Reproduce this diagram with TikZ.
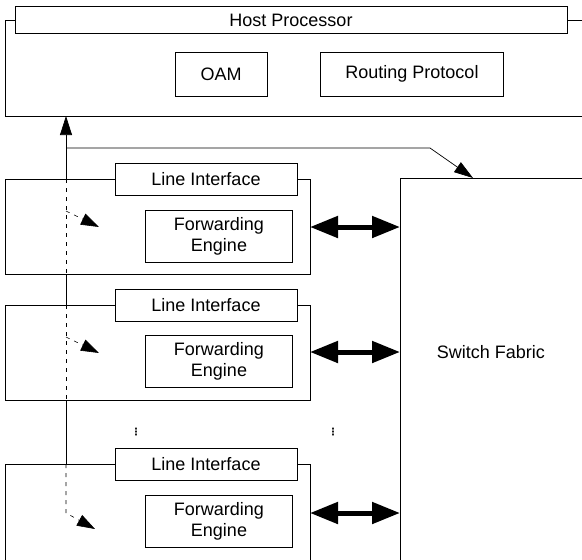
\documentclass[tikz,border=0pt]{standalone}
\usepackage{fontspec}
\setmainfont{Liberation Sans}
\newfontfamily\symfont{DejaVu Sans}
\usetikzlibrary{arrows.meta}

\tikzset{
  box/.style={draw, line width=0.7pt, align=center, inner sep=0pt,
    font=\fontsize{18}{21}\selectfont},
  frame/.style={line width=0.7pt},
  biarrow/.style={line width=5pt,
    {Triangle[length=28pt,width=21pt]}-{Triangle[length=28pt,width=21pt]}},
  toarrow/.style={line width=0.7pt, -{Triangle[length=19pt,width=12pt]}},
  dotline/.style={line width=0.6pt, dash pattern=on 4pt off 5pt},
  dotarrow/.style={dotline, -{Triangle[length=18pt,width=12pt]}},
  dots/.style={inner sep=0pt, font=\fontsize{10}{10}\symfont\bfseries},
}

\begin{document}
\begin{tikzpicture}[x=1pt,y=-1pt]
  \useasboundingbox (0,0) rectangle (582,560);
  % host processor
  \node[box, minimum width=552, minimum height=27] (host) at (291,20) {Host Processor};
  \node[box, minimum width=92, minimum height=44] (oam) at (221,74) {OAM};
  \node[box, minimum width=183, minimum height=44] (routing) at (412,74) {Routing Protocol};
  \draw[frame] (host.west) -- (5,20) -- (5,116) -- (582,116);
  \draw[frame] (host.east) -- (582,20);
  \coordinate (hostin) at (66,116);

  % switch fabric
  \coordinate (sf) at (400,178);
  \draw[frame] (400,560) -- (sf) -- (582,178);
  \node[font=\fontsize{18}{21}\selectfont] (fabric) at (491,352) {Switch Fabric};

  % line cards
  \node[box, minimum width=182, minimum height=32] (li1) at (206,179) {Line Interface};
  \node[box, minimum width=147, minimum height=52] (fe1) at (219,236) {Forwarding\\Engine};
  \draw[frame] (li1.west) -- (5,179) -- (5,274) -- (310,274) -- (310,179) -- (li1.east);

  \node[box, minimum width=182, minimum height=32] (li2) at (206,305) {Line Interface};
  \node[box, minimum width=147, minimum height=52] (fe2) at (219,361) {Forwarding\\Engine};
  \draw[frame] (li2.west) -- (5,305) -- (5,400) -- (310,400) -- (310,305) -- (li2.east);

  \node[box, minimum width=182, minimum height=32] (li3) at (206,464) {Line Interface};
  \node[box, minimum width=147, minimum height=52] (fe3) at (219,521) {Forwarding\\Engine};
  \draw[frame] (li3.west) -- (5,464) -- (5,560);
  \draw[frame] (li3.east) -- (310,464) -- (310,560);

  \node[dots] (dotsa) at (136,432) {⋮};
  \node[dots] (dotsb) at (333,432) {⋮};

  % links to the switch fabric
  \coordinate (p1) at (310,227);
  \coordinate (p2) at (310,352);
  \coordinate (p3) at (310,513);
  \draw[biarrow] (p1) -- (p1 -| sf);
  \draw[biarrow] (p2) -- (p2 -| sf);
  \draw[biarrow] (p3) -- (p3 -| sf);

  % control path
  \draw[toarrow] (66,179) -- (hostin);
  \draw[frame] (66,274) -- (66,305);
  \draw[frame] (66,400) -- (66,464);
  \draw[toarrow] (66,148) -- (430,148) -- (473,178);
  \draw[dotline] (66,179) -- (66,274);
  \draw[dotline] (66,305) -- (66,400);
  \draw[dotarrow] (66,211) -- (99,227);
  \draw[dotarrow] (66,337) -- (99,353);
  \draw[dotarrow] (66,464) -- (66,513) -- (95,529);
\end{tikzpicture}
\end{document}
